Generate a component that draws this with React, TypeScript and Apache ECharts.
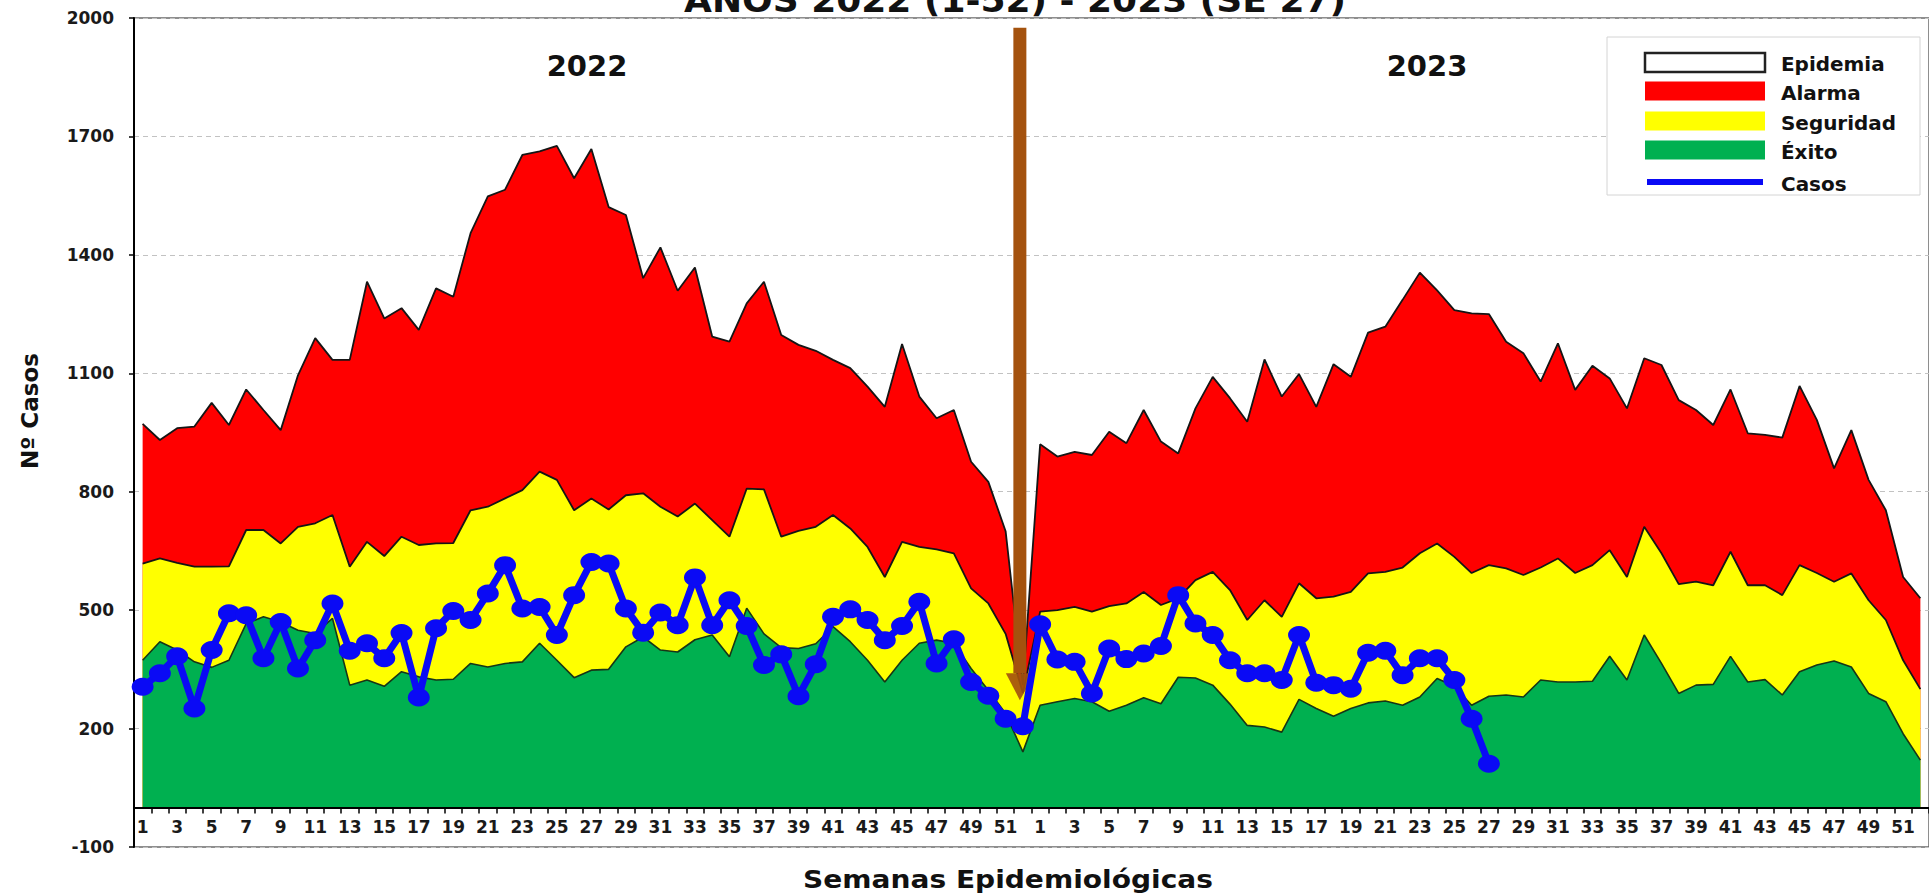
import React, { useEffect, useRef } from 'react';
import * as echarts from 'echarts';

const weeks = Array.from({ length: 52 }, (_, i) => String(i + 1));
const categories = [...weeks, ...weeks];

// Upper limit of the "Alarma" zone (2022 weeks 1-52, then 2023 weeks 1-52)
const alarma = [
  972, 931, 961, 965, 1025, 969, 1059, 1007, 956, 1095,
  1189, 1134, 1134, 1332, 1239, 1265, 1210, 1315, 1294, 1455,
  1548, 1565, 1653, 1662, 1676, 1594, 1668, 1521, 1501, 1341,
  1419, 1309, 1368, 1193, 1180, 1277, 1332, 1197, 1172, 1157,
  1134, 1113, 1066, 1015, 1174, 1041, 986, 1007, 876, 825,
  700, 310,
  920, 889, 901, 893, 952, 923, 1007, 927, 897, 1011,
  1091, 1037, 977, 1135, 1041, 1098, 1015, 1123, 1091, 1203,
  1218, 1286, 1355, 1310, 1260, 1252, 1250, 1180, 1151, 1079,
  1176, 1058, 1119, 1087, 1011, 1138, 1121, 1032, 1007, 969,
  1059, 948, 944, 937, 1068, 982, 859, 956, 830, 753,
  584, 530,
];

// Upper limit of the "Seguridad" zone
const seguridad = [
  618, 631, 620, 610, 610, 611, 703, 703, 669, 711,
  720, 741, 610, 673, 637, 686, 665, 669, 670, 753,
  762, 783, 804, 851, 830, 753, 783, 755, 791, 796,
  762, 737, 770, 728, 686, 808, 806, 686, 701, 711,
  741, 707, 660, 584, 673, 660, 654, 644, 555, 517,
  440, 290,
  496, 500, 508, 496, 510, 517, 546, 513, 530, 576,
  597, 551, 475, 525, 483, 568, 530, 534, 546, 593,
  597, 608, 644, 669, 635, 594, 614, 606, 589, 608,
  631, 594, 614, 652, 584, 711, 644, 566, 572, 563,
  648, 563, 563, 538, 614, 594, 572, 593, 525, 475,
  373, 300,
];

// Upper limit of the "Éxito" zone
const exito = [
  373, 420, 399, 369, 355, 373, 466, 483, 470, 449,
  441, 479, 310, 323, 307, 344, 331, 323, 325, 365,
  356, 365, 369, 416, 373, 329, 348, 350, 407, 432,
  399, 394, 425, 437, 382, 505, 440, 405, 403, 415,
  458, 420, 373, 318, 373, 416, 424, 416, 352, 297,
  238, 141,
  259, 268, 276, 268, 244, 259, 278, 263, 330, 328,
  310, 262, 208, 204, 191, 274, 251, 231, 251, 265,
  270, 259, 280, 327, 307, 259, 282, 285, 280, 323,
  318, 318, 320, 383, 323, 437, 365, 289, 310, 312,
  383, 318, 324, 285, 344, 361, 371, 356, 289, 268,
  187, 120,
];

const casos2022 = [
  306, 340, 383, 251, 399, 492, 487, 378, 470, 352,
  424, 517, 397, 416, 378, 442, 279, 454, 498, 475,
  542, 614, 504, 508, 437, 538, 622, 618, 504, 443,
  494, 462, 583, 462, 525, 460, 361, 388, 282, 363,
  483, 502, 475, 424, 460, 521, 365, 426, 318, 283,
  225, 206,
];
const casos2023 = [
  464, 375, 369, 289, 403, 376, 390, 409, 538, 466,
  437, 373, 340, 340, 323, 437, 316, 310, 301, 392,
  397, 335, 378, 378, 323, 225, 111,
];
const casos = [...casos2022, ...casos2023];

const legendNames = ['Epidemia', 'Alarma', 'Seguridad', 'Éxito', 'Casos'];
const yearLabels = ['2022', '2023'];

const FONT = 'DejaVu Sans';
const C_RED = '#FF0000';
const C_YEL = '#FFFF00';
const C_GRN = '#00B050';
const C_BLUE = '#0A0AF5';
const C_ARROW = '#A4520E';

const Y_MIN = -100;
const Y_MAX = 2000;
const GRID_TOP = 18;
const GRID_BOTTOM = 49;
const CHART_H = 896;
const X_AXIS_SHIFT = ((CHART_H - GRID_TOP - GRID_BOTTOM) * (0 - Y_MIN)) / (Y_MAX - Y_MIN);

function txt(text: string, x: number, y: number, size: number, extra: any = {}) {
  return {
    type: 'text',
    x,
    y,
    z: 20,
    scaleX: extra.scaleX ?? 1,
    rotation: extra.rotation ?? 0,
    style: {
      text,
      fill: '#111',
      fontFamily: FONT,
      fontWeight: 'bold',
      fontSize: size,
      font: `bold ${size}px "${FONT}"`,
      align: extra.align ?? 'center',
      textAlign: extra.align ?? 'center',
      verticalAlign: 'middle',
      textVerticalAlign: 'middle',
    },
  };
}

export default function App() {
  const ref = useRef<HTMLDivElement>(null);

  useEffect(() => {
    const el = ref.current!;
    const chart = echarts.init(el, undefined, { renderer: 'svg' });
    const lineStyle = { color: '#151515', width: 1.8 };
    chart.setOption({
      animation: false,
      backgroundColor: '#ffffff',
      textStyle: { fontFamily: FONT },
      legend: { show: false },
      grid: {
        left: 134,
        right: -9,
        top: GRID_TOP,
        bottom: GRID_BOTTOM,
        show: true,
        borderColor: '#6a6a6a',
        borderWidth: 1.5,
        backgroundColor: 'transparent',
      },
      xAxis: {
        type: 'category',
        data: categories,
        boundaryGap: true,
        position: 'bottom',
        offset: -X_AXIS_SHIFT,
        z: 6,
        axisLine: { onZero: false, lineStyle: { color: '#000', width: 2 } },
        axisTick: { show: true, interval: 0, length: 6, lineStyle: { color: '#000', width: 1.5 } },
        axisLabel: {
          interval: 1,
          margin: 11,
          color: '#1a1a1a',
          fontFamily: FONT,
          fontWeight: 'bold',
          fontSize: 17,
        },
        splitLine: { show: false },
      },
      yAxis: {
        type: 'value',
        min: Y_MIN,
        max: Y_MAX,
        interval: 300,
        axisLine: { show: true, lineStyle: { color: '#000', width: 2 } },
        axisTick: { show: true, length: 5, lineStyle: { color: '#000', width: 1.5 } },
        axisLabel: {
          margin: 20,
          color: '#1a1a1a',
          fontFamily: FONT,
          fontWeight: 'bold',
          fontSize: 17,
          formatter: (v: number) => String(v),
        },
        splitLine: { show: true, lineStyle: { color: '#c2c2c2', type: [5, 4], width: 1 } },
      },
      series: [
        {
          name: 'Alarma',
          type: 'line',
          data: alarma,
          symbol: 'none',
          z: 1,
          lineStyle,
          itemStyle: { color: C_RED },
          areaStyle: { color: C_RED, opacity: 1 },
        },
        {
          name: 'Seguridad',
          type: 'line',
          data: seguridad,
          symbol: 'none',
          z: 2,
          lineStyle,
          itemStyle: { color: C_YEL },
          areaStyle: { color: C_YEL, opacity: 1 },
        },
        {
          name: 'Éxito',
          type: 'line',
          data: exito,
          symbol: 'none',
          z: 3,
          lineStyle: { color: '#173517', width: 1.6 },
          itemStyle: { color: C_GRN },
          areaStyle: { color: C_GRN, opacity: 1 },
        },
        {
          name: 'Casos',
          type: 'line',
          data: casos,
          symbol: 'circle',
          symbolSize: [22, 18],
          showAllSymbol: true,
          z: 5,
          lineStyle: { color: C_BLUE, width: 7 },
          itemStyle: { color: C_BLUE },
        },
      ],
    });

    const toPx = (i: number, v: number) => chart.convertToPixel({ gridIndex: 0 }, [i, v]) as number[];
    const aTop = toPx(51, 1975);
    const aHead = toPx(51, 340);
    const aTip = toPx(51, 272);
    const ax = aTop[0] - 3;

    const legendX = 1607;
    const legendY = 37;
    const rowCenters = [62, 91, 121, 150, 182];
    const swX = 1645;
    const swW = 120;
    const legendColors = ['#ffffff', C_RED, C_YEL, C_GRN, C_BLUE];

    const legendEls: any[] = [
      {
        type: 'rect',
        z: 15,
        shape: { x: legendX, y: legendY, width: 313, height: 158 },
        style: { fill: '#ffffff', stroke: '#d4d4d4', lineWidth: 1 },
      },
    ];
    legendNames.forEach((name, k) => {
      const cy = rowCenters[k];
      if (name === 'Casos') {
        legendEls.push({
          type: 'line',
          z: 16,
          shape: { x1: swX + 2, y1: cy, x2: swX + swW - 2, y2: cy },
          style: { stroke: legendColors[k], lineWidth: 6 },
        });
      } else if (name === 'Epidemia') {
        legendEls.push({
          type: 'rect',
          z: 16,
          shape: { x: swX, y: cy - 9, width: swW, height: 19 },
          style: { fill: '#ffffff', stroke: '#222', lineWidth: 2.5 },
        });
      } else {
        legendEls.push({
          type: 'rect',
          z: 16,
          shape: { x: swX, y: cy - 9.5, width: swW, height: 19 },
          style: { fill: legendColors[k] },
        });
      }
      legendEls.push(txt(name, 1781, cy + 2.5, 19, { align: 'left', scaleX: 1.05 }));
    });

    chart.setOption({
      graphic: [
        {
          type: 'rect',
          z: 4,
          shape: { x: ax - 6.5, y: aTop[1], width: 13, height: aHead[1] - aTop[1] },
          style: { fill: C_ARROW },
        },
        {
          type: 'polygon',
          z: 4,
          shape: {
            points: [
              [ax - 14, aHead[1]],
              [ax + 15, aHead[1]],
              [ax, aTip[1]],
            ],
          },
          style: { fill: C_ARROW, opacity: 0.92 },
        },
        txt('AÑOS 2022 (1-52) - 2023 (SE 27)', 1015, 0, 34, { scaleX: 1.06 }),
        txt(yearLabels[0], 587, 66, 29),
        txt(yearLabels[1], 1427, 66, 29),
        txt('Nº Casos', 30, 411, 23, { rotation: Math.PI / 2 }),
        txt('Semanas Epidemiológicas', 1008, 880, 24, { scaleX: 1.17 }),
        ...legendEls,
      ],
    });

    return () => chart.dispose();
  }, []);

  return (
    <div
      ref={ref}
      style={{ position: 'fixed', left: 0, top: 0, width: 1929, height: 896, background: '#fff' }}
    />
  );
}
